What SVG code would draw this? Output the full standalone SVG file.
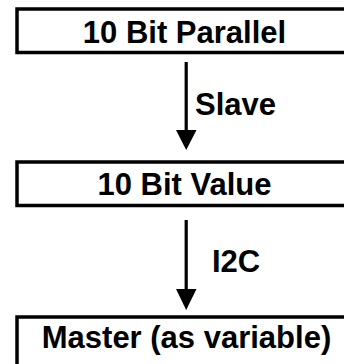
<svg xmlns="http://www.w3.org/2000/svg" width="344" height="364" viewBox="0 0 344 364">
<style>
.box{fill:#fff;stroke:#000;stroke-width:3.5}
.t{font-family:"Liberation Sans",Arial,Helvetica,sans-serif;font-weight:bold;font-size:31px;fill:#000}
.c{text-anchor:middle}
.ln{stroke:#000;stroke-width:3.2;fill:none}
.hd{fill:#000}
</style>
<rect width="344" height="364" fill="#fff"/>
<g id="node-parallel">
<rect class="box" x="17" y="9" width="345" height="43.5"/>
<text class="t c" x="184.5" y="42.5">10 Bit Parallel</text>
</g>
<g id="node-value">
<rect class="box" x="17" y="162" width="345" height="43.5"/>
<text class="t c" x="184.5" y="195">10 Bit Value</text>
</g>
<g id="node-master">
<rect class="box" x="17" y="317" width="345" height="60"/>
<text class="t c" x="186.5" y="348">Master (as variable)</text>
</g>
<g id="connectors">
<line class="ln" x1="186.2" y1="62" x2="186.2" y2="132"/>
<polygon class="hd" points="176,130 196.5,130 186.2,150"/>
<text class="t" x="195" y="115">Slave</text>
<line class="ln" x1="186.2" y1="220" x2="186.2" y2="291"/>
<polygon class="hd" points="176,289 196.5,289 186.2,310"/>
<text class="t" x="212" y="272">I2C</text>
</g>
</svg>
